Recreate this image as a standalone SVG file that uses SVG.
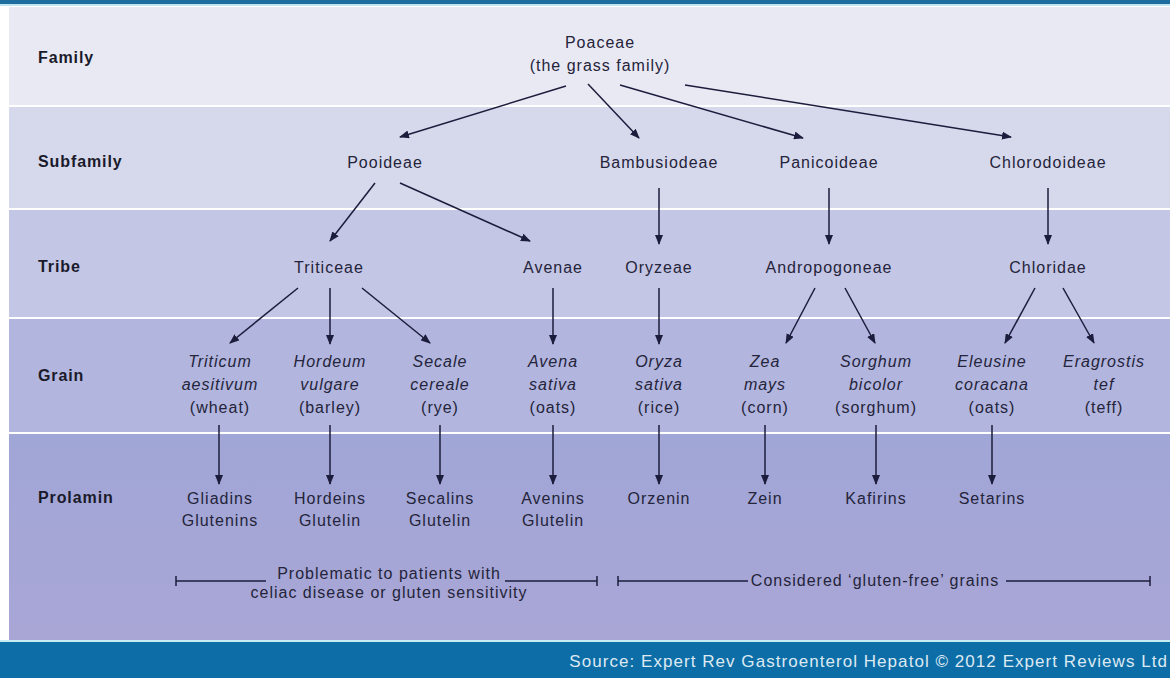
<svg xmlns="http://www.w3.org/2000/svg" width="1170" height="678" viewBox="0 0 1170 678">
<defs>
<marker id="ah" markerWidth="10" markerHeight="8" refX="9" refY="4" orient="auto" markerUnits="userSpaceOnUse">
<path d="M0,0 L10,4 L0,8 Z" fill="#1c1c3c"/>
</marker>
<linearGradient id="pg" x1="0" y1="0" x2="0" y2="1">
<stop offset="0" stop-color="#a0a6d6"/>
<stop offset="1" stop-color="#a9a6d6"/>
</linearGradient>
</defs>
<style>
text{font-family:"Liberation Sans",Arial,sans-serif;font-size:16px;letter-spacing:1px;fill:#24243a;text-anchor:middle}
.lab{font-weight:bold;text-anchor:start;fill:#1a1a2a;letter-spacing:0.9px}
.it{font-style:italic}
.src{fill:#dde9f3;font-size:17px;letter-spacing:1.05px;text-anchor:end}
#connectors line{stroke:#1c1c3c;stroke-width:1.5;marker-end:url(#ah)}
.br line{stroke:#1c1c3c;stroke-width:1.5}
</style>
<rect x="0" y="0" width="1170" height="678" fill="#ffffff"/>
<rect x="0" y="0" width="1170" height="4" fill="#1d6e9e"/>
<rect x="0" y="4" width="1170" height="2" fill="#bfe6f0"/>
<rect x="9" y="7" width="1161" height="98" fill="#e9e9f4"/>
<rect x="9" y="107" width="1161" height="101" fill="#d6d8ec"/>
<rect x="9" y="210" width="1161" height="107" fill="#c4c6e5"/>
<rect x="9" y="319" width="1161" height="113" fill="#b2b5de"/>
<rect x="9" y="434" width="1161" height="206" fill="url(#pg)"/>
<rect x="0" y="640" width="1170" height="2" fill="#c6ecf4"/>
<rect x="0" y="642" width="1170" height="36" fill="#0d6ea7"/>
<g id="labels">
<text class="lab" x="38" y="63">Family</text>
<text class="lab" x="38" y="167">Subfamily</text>
<text class="lab" x="38" y="272">Tribe</text>
<text class="lab" x="38" y="381">Grain</text>
<text class="lab" x="38" y="503">Prolamin</text>
</g>
<g id="connectors">
<line x1="566" y1="86" x2="400" y2="137"/>
<line x1="588" y1="84" x2="639" y2="138"/>
<line x1="620" y1="85" x2="803" y2="138"/>
<line x1="685" y1="85" x2="1011" y2="137"/>
<line x1="375" y1="183" x2="330" y2="241"/>
<line x1="400" y1="183" x2="530" y2="241"/>
<line x1="659" y1="188" x2="659" y2="244"/>
<line x1="829" y1="188" x2="829" y2="244"/>
<line x1="1048" y1="188" x2="1048" y2="244"/>
<line x1="298" y1="288" x2="230" y2="343"/>
<line x1="330" y1="288" x2="330" y2="344"/>
<line x1="362" y1="288" x2="430" y2="343"/>
<line x1="553" y1="288" x2="553" y2="344"/>
<line x1="659" y1="288" x2="659" y2="344"/>
<line x1="815" y1="288" x2="786" y2="343"/>
<line x1="845" y1="288" x2="875" y2="343"/>
<line x1="1035" y1="288" x2="1005" y2="343"/>
<line x1="1063" y1="288" x2="1094" y2="343"/>
<line x1="219" y1="425" x2="219" y2="484"/>
<line x1="330" y1="425" x2="330" y2="484"/>
<line x1="440" y1="425" x2="440" y2="484"/>
<line x1="553" y1="425" x2="553" y2="484"/>
<line x1="659" y1="425" x2="659" y2="484"/>
<line x1="765" y1="425" x2="765" y2="484"/>
<line x1="876" y1="425" x2="876" y2="484"/>
<line x1="992" y1="425" x2="992" y2="484"/>
</g>
<g id="poaceae"><text x="600" y="48">Poaceae</text><text x="600" y="71">(the grass family)</text></g>
<g id="pooideae"><text x="385" y="168">Pooideae</text></g>
<g id="bambusiodeae"><text x="659" y="168">Bambusiodeae</text></g>
<g id="panicoideae"><text x="829" y="168">Panicoideae</text></g>
<g id="chlorodoideae"><text x="1048" y="168">Chlorodoideae</text></g>
<g id="triticeae"><text x="329" y="273">Triticeae</text></g>
<g id="avenae"><text x="553" y="273">Avenae</text></g>
<g id="oryzeae"><text x="659" y="273">Oryzeae</text></g>
<g id="andropogoneae"><text x="829" y="273">Andropogoneae</text></g>
<g id="chloridae"><text x="1048" y="273">Chloridae</text></g>
<g id="wheat"><text class="it" x="220" y="367">Triticum</text><text class="it" x="220" y="390">aesitivum</text><text x="220" y="413">(wheat)</text></g>
<g id="barley"><text class="it" x="330" y="367">Hordeum</text><text class="it" x="330" y="390">vulgare</text><text x="330" y="413">(barley)</text></g>
<g id="rye"><text class="it" x="440" y="367">Secale</text><text class="it" x="440" y="390">cereale</text><text x="440" y="413">(rye)</text></g>
<g id="oats"><text class="it" x="553" y="367">Avena</text><text class="it" x="553" y="390">sativa</text><text x="553" y="413">(oats)</text></g>
<g id="rice"><text class="it" x="659" y="367">Oryza</text><text class="it" x="659" y="390">sativa</text><text x="659" y="413">(rice)</text></g>
<g id="corn"><text class="it" x="765" y="367">Zea</text><text class="it" x="765" y="390">mays</text><text x="765" y="413">(corn)</text></g>
<g id="sorghum"><text class="it" x="876" y="367">Sorghum</text><text class="it" x="876" y="390">bicolor</text><text x="876" y="413">(sorghum)</text></g>
<g id="eleusine"><text class="it" x="992" y="367">Eleusine</text><text class="it" x="992" y="390">coracana</text><text x="992" y="413">(oats)</text></g>
<g id="teff"><text class="it" x="1104" y="367">Eragrostis</text><text class="it" x="1104" y="390">tef</text><text x="1104" y="413">(teff)</text></g>
<g id="gliadins"><text x="220" y="504">Gliadins</text><text x="220" y="526">Glutenins</text></g>
<g id="hordeins"><text x="330" y="504">Hordeins</text><text x="330" y="526">Glutelin</text></g>
<g id="secalins"><text x="440" y="504">Secalins</text><text x="440" y="526">Glutelin</text></g>
<g id="avenins"><text x="553" y="504">Avenins</text><text x="553" y="526">Glutelin</text></g>
<g id="orzenin"><text x="659" y="504">Orzenin</text></g>
<g id="zein"><text x="765" y="504">Zein</text></g>
<g id="kafirins"><text x="876" y="504">Kafirins</text></g>
<g id="setarins"><text x="992" y="504">Setarins</text></g>
<g id="bracket-left" class="br">
<line x1="176" y1="581" x2="266" y2="581"/>
<line x1="176" y1="576" x2="176" y2="586"/>
<line x1="505" y1="581" x2="597" y2="581"/>
<line x1="597" y1="576" x2="597" y2="586"/>
<text x="389" y="579">Problematic to patients with</text>
<text x="389" y="598">celiac disease or gluten sensitivity</text>
</g>
<g id="bracket-right" class="br">
<line x1="618" y1="581" x2="748" y2="581"/>
<line x1="618" y1="576" x2="618" y2="586"/>
<line x1="1006" y1="581" x2="1150" y2="581"/>
<line x1="1150" y1="576" x2="1150" y2="586"/>
<text x="875" y="586">Considered ‘gluten-free’ grains</text>
</g>
<text class="src" x="1168" y="667">Source: Expert Rev Gastroenterol Hepatol © 2012 Expert Reviews Ltd</text>
</svg>
